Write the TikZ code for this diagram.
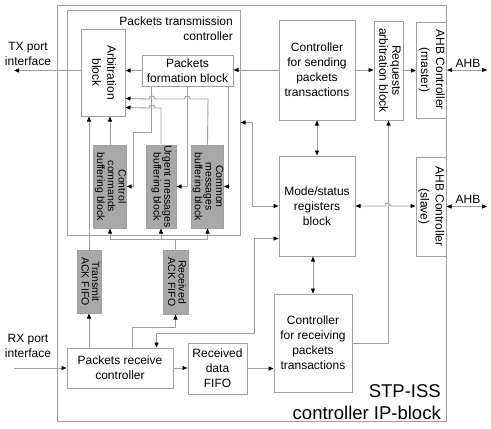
\documentclass[tikz,border=0pt]{standalone}
\usepackage{fontspec}
\setmainfont{Liberation Sans}
\usepackage{graphicx}
\usetikzlibrary{arrows.meta,calc}
\definecolor{ln}{HTML}{A0A0A0}
\definecolor{gf}{HTML}{A8A8A8}
\tikzset{
  box/.style={draw=ln,line width=1pt,fill=white,inner sep=0pt,align=center,font=\fontsize{12}{15}\selectfont},
  gbox/.style={draw=ln,line width=1pt,fill=gf,inner sep=0pt,align=center,font=\fontsize{10.5}{10.5}\selectfont},
  wire/.style={draw=ln,line width=0.9pt},
  arr/.style={wire,-{Triangle[length=5pt,width=4pt,color=black]}},
  darr/.style={wire,{Triangle[length=5pt,width=4pt,color=black]}-{Triangle[length=5pt,width=4pt,color=black]}},
  lbl/.style={inner sep=0pt,align=center,font=\fontsize{12}{15}\selectfont},
}
\newcommand{\rtext}[1]{\rotatebox{-90}{\begin{tabular}{@{}c@{}}#1\end{tabular}}}
\begin{document}
\begin{tikzpicture}[x=1pt,y=-1pt]
\useasboundingbox (0,0) rectangle (491,429);
% containers
\node[box,minimum width=389pt,minimum height=416pt] (ip) at (251.5,213) {};
\node[box,minimum width=173pt,minimum height=225pt] (ptc) at (153.5,122.5) {};
\node[lbl,anchor=north east,align=right] (ptct) at (233,17) {Packets transmission\\controller};
\node[lbl,anchor=south east,align=right,font=\fontsize{18.5}{22}\selectfont] (ipt) at (441,420) {STP-ISS\\controller IP-block};
% blocks
\node[box,minimum width=44pt,minimum height=87pt] (arb) at (103,72.5) {\rtext{Arbitration\\block}};
\node[box,minimum width=91pt,minimum height=31pt] (pf) at (187.5,70.5) {Packets\\formation block};
\node[gbox,minimum width=30pt,minimum height=83pt] (ctl) at (110,186.5) {\rtext{Control\\commands\\buffering block}};
\node[gbox,minimum width=30pt,minimum height=83pt] (urg) at (161,186.5) {\rtext{Urgent messages\\buffering block}};
\node[gbox,minimum width=29pt,minimum height=83pt] (com) at (207.5,186.5) {\rtext{Common\\messages\\buffering block}};
\node[gbox,minimum width=24pt,minimum height=63pt] (tack) at (89,281.5) {\rtext{Transmit\\ACK FIFO}};
\node[gbox,minimum width=25pt,minimum height=64pt] (rack) at (175.5,282) {\rtext{Received\\ACK FIFO}};
\node[box,minimum width=106pt,minimum height=40pt] (prc) at (120,368) {Packets receive\\controller};
\node[box,minimum width=59pt,minimum height=51pt] (rdf) at (217.5,368.5) {Received\\data\\FIFO};
\node[box,minimum width=78pt,minimum height=98pt] (crp) at (313,343) {Controller\\for receiving\\packets\\transactions};
\node[box,minimum width=76pt,minimum height=100pt] (mode) at (317,206) {Mode/status\\registers\\block};
\node[box,minimum width=76pt,minimum height=100pt] (csp) at (317,70) {Controller\\for sending\\packets\\transactions};
\node[box,minimum width=29pt,minimum height=99pt,font=\fontsize{12}{13}\selectfont] (req) at (388.5,70.5) {\rtext{Requests\\arbitration block}};
\node[box,minimum width=29pt,minimum height=96pt] (ahbm) at (431.5,70) {\rtext{AHB Controller\\(master)}};
\node[box,minimum width=30pt,minimum height=99pt] (ahbs) at (431,206.5) {\rtext{AHB Controller\\(slave)}};
% outside labels
\node[lbl] (tx) at (28,54) {TX port\\interface};
\node[lbl] (rx) at (28,345.5) {RX port\\interface};
\node[lbl] (ahb1) at (468,63) {AHB};
\node[lbl] (ahb2) at (468,199) {AHB};
\coordinate (txend) at (14,70.5);
\coordinate (rxstart) at (14,368);
\coordinate (ahbe1) at (487,70);
\coordinate (ahbe2) at (487,206.5);
% top connectors
\draw[arr] (arb.west |- pf.west) -- (txend);
\draw[arr] (pf.west) -- (pf.west -| arb.east);
\draw[arr] (csp.west) -- (csp.west -| pf.east);
\draw[arr] (csp.east) -- (csp.east -| req.west);
\draw[arr] (req.east) -- (req.east -| ahbm.west);
\draw[darr] (ahbm.east) -- (ahbe1);
\draw[darr] (ahbs.east) -- (ahbe2);
\draw[darr] (csp.south) -- (mode.north);
\draw[darr] (crp.north |- mode.south) -- (crp.north);
\draw[darr] (mode.east) -- ($(mode.east -| req.south)+(-3,0)$)
  .. controls +(0,-4) and +(-6,-4) .. ($(mode.east -| req.south)+(3,0)$) -- (mode.east -| ahbs.west);
\draw[arr] (crp.east) -| (req.south);
% bottom connectors
\draw[arr] (rxstart) -- (prc.west);
\draw[arr] (prc.east) -- (prc.east -| rdf.west);
\draw[arr] (rdf.east) -- (rdf.east -| crp.west);
\draw[arr] (tack.south |- prc.north) -- (tack.south);
\draw[arr] ($(prc.north west)+(66,0)$) |- ($(rack.south)+(0,13)$) -- (rack.south);
\draw[darr] ($(prc.north west)+(90,0)$) |- (254,333) |- ($(mode.south west)+(0,-18)$);
\draw[darr] (ptc.east) -| ($(mode.west)+(-26,0)$) -- (mode.west);
% ack bus
\draw[wire] (rack.north) -- ($(rack.north)+(0,-10)$) coordinate (bus);
\draw[wire] (ctl.south |- bus) -- (com.south |- bus);
\draw[arr] (ctl.south |- bus) -- (ctl.south);
\draw[arr] (urg.south |- bus) -- (urg.south);
\draw[arr] (com.south |- bus) -- (com.south);
% into arbitration
\draw[arr] (tack.north) -- (tack.north |- arb.south);
\draw[arr] (ctl.north) -- (ctl.north |- arb.south);
% formation block to buffers
\draw[arr] ($(pf.south west)+(10,0)$) |- (133,132) |- (ctl.east);
\draw[arr] (pf.south) |- (urg.east);
\draw[arr] ($(pf.south east)+(-5,0)$) |- (com.east);
% buffers to arbitration with hops
\draw[arr] (com.north) -- (208,99) -- (190.5,99) .. controls (190.5,95) and (184.5,95) .. (184.5,99)
  -- (155,99) .. controls (155,95) and (149,95) .. (149,99) -- ($(arb.north east)+(0,70)$);
\draw[arr] (urg.north) -- (161,108) -- (155,108) .. controls (155,104) and (149,104) .. (149,108)
  -- ($(arb.north east)+(0,79)$);
\end{tikzpicture}
\end{document}
